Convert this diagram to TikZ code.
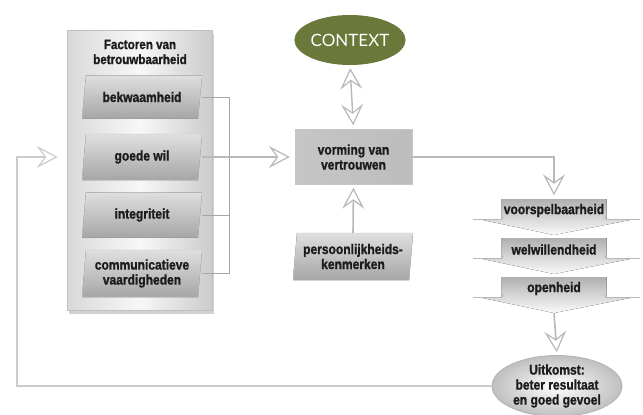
\documentclass[tikz,border=0pt]{standalone}
\usepackage{fontspec}
\setmainfont{Liberation Sans}
\newfontfamily\cond{Liberation Sans}[FakeStretch=0.86, BoldFeatures={FakeBold=1.2}]
\newfontfamily\ctxfont{Lato}
\usetikzlibrary{arrows.meta,shapes.geometric,shadows,calc}
\definecolor{olivectx}{RGB}{106,120,58}
\definecolor{inkc}{RGB}{28,28,30}
% parallelogram sub-box: name, cx, cy, height, text
\newcommand\mysub[5]{%
  \fill[subfill] (#2-56,#3-#4/2) -- (#2+60,#3-#4/2) -- (#2+56,#3+#4/2) -- (#2-60,#3+#4/2) -- cycle;
  \draw[subedge] (#2-56,#3-#4/2) -- (#2+60,#3-#4/2) -- (#2+56,#3+#4/2) -- (#2-60,#3+#4/2) -- cycle;
  \node[fbox, minimum height=#4pt] (#1) at (#2,#3) {#5};}
% tab with pointed bottom: name, top y, text
\newcommand\mytab[3]{%
  \fill[tabfill] (501.5,#2) -- (606.5,#2) -- (606.5,#2+20) -- (635,#2+20) -- (554,#2+36) -- (478,#2+20) -- (501.5,#2+20) -- cycle;
  \draw[wing] (473,#2+20.5) -- (501.5,#2+20.5) to[out=0,in=-90] (503,#2+17);
  \draw[wing] (640,#2+20.5) -- (606.5,#2+20.5) to[out=180,in=-90] (605,#2+17);
  \node[lbl, inner sep=0pt, minimum width=105pt, minimum height=22pt] (#1) at (554,#2+11.5) {#3};
  \coordinate (#1tip) at (554,#2+36);}
\begin{document}
\begin{tikzpicture}[x=1pt,y=-1pt,
  lbl/.style={font=\cond\bfseries\fontsize{14}{15}\selectfont, text=inkc, align=center},
  fbox/.style={lbl, inner sep=0pt, minimum width=120pt},
  subfill/.style={top color=gray!25, middle color=gray!4, bottom color=gray!70},
  subedge/.style={draw=gray!45, line width=0.4pt},
  tabfill/.style={top color=gray!62, bottom color=gray!4},
  wing/.style={draw=gray!55, line width=0.9pt},
  conn/.style={draw=gray!55, line width=1.6pt},
  brk/.style={draw=gray!70, line width=0.9pt},
  chev/.style={-{Stealth[length=21pt,width=22pt,inset=8pt,fill=white,line width=1.2pt]}},
]
\useasboundingbox (0,0) rectangle (643,415);
\fill[white] (0,0) rectangle (643,415);

% panel
\node[draw=gray!50, line width=0.6pt, left color=gray!30, right color=gray!40, middle color=gray!6,
      minimum width=145pt, minimum height=280pt, inner sep=0pt,
      drop shadow={shadow xshift=2pt, shadow yshift=-4pt, opacity=0.35}] (panel) at (139.5,170) {};
\node[lbl, font=\cond\bfseries\fontsize{13.5}{15}\selectfont] (title) at (140,52) {Factoren van\\betrouwbaarheid};

\mysub{bek}{142}{97}{43}{bekwaamheid}
\mysub{goede}{142}{157}{46}{goede wil}
\mysub{integ}{142}{215}{45}{integriteit}
\mysub{comm}{142}{273.5}{47}{communicatieve\\vaardigheden}

% bracket
\draw[brk] (bek.east) -- ++(27,0) coordinate (b1) -- (b1 |- comm.east) -- (comm.east);
\draw[brk] (integ.east) -- (integ.east -| b1);

% vorming
\node[lbl, inner sep=0pt, minimum width=117pt, minimum height=55pt, draw=gray!45, line width=0.4pt,
      left color=gray!45, middle color=white, right color=gray!52] (vorm) at (353.5,157) {vorming van\\vertrouwen};

% context
\node[ellipse, fill=olivectx, minimum width=104pt, minimum height=50pt, inner sep=0pt, text=white,
      font=\ctxfont\fontsize{17}{17}\selectfont] (ctx) at (350,40) {CONTEXT};

% persoonlijkheidskenmerken
\mysub{pers}{353}{256.5}{47}{persoonlijkheids-\\kenmerken}

% right stack
\mytab{voor}{199}{voorspelbaarheid}
\mytab{welw}{238}{welwillendheid}
\mytab{open}{277}{openheid}

% outcome
\node[ellipse, draw=gray!60, line width=0.8pt, inner color=white, outer color=gray!50,
      minimum width=130pt, minimum height=56pt, inner sep=0pt, lbl] (uit) at (557,386) {Uitkomst:\\beter resultaat\\en goed gevoel};

% connectors
\draw[conn, chev, shorten >=5pt] (goede.east) -- (vorm.west);
\draw[conn, chev, shorten >=4pt] (vorm.east) -| (voor.north);
\draw[conn, chev, shorten >=3pt] (pers.north) -- (vorm.south);
\draw[draw=gray!55, line width=1.4pt,
      {Stealth[length=21pt,width=22pt,inset=8pt,fill=white,line width=1.2pt]}-{Stealth[length=21pt,width=22pt,inset=8pt,fill=white,line width=1.2pt]},
      shorten <=3pt, shorten >=4pt] (ctx.south) -- (vorm.north);
\draw[conn, chev, shorten >=3pt] (opentip) -- (uit.north);
\coordinate (fbx) at (17,0);
\draw[draw=gray!40, line width=2.4pt, chev, shorten >=9pt] (uit.west) -- (uit.west -| fbx) -- (fbx |- goede) -- (panel.west |- goede);
\end{tikzpicture}
\end{document}
